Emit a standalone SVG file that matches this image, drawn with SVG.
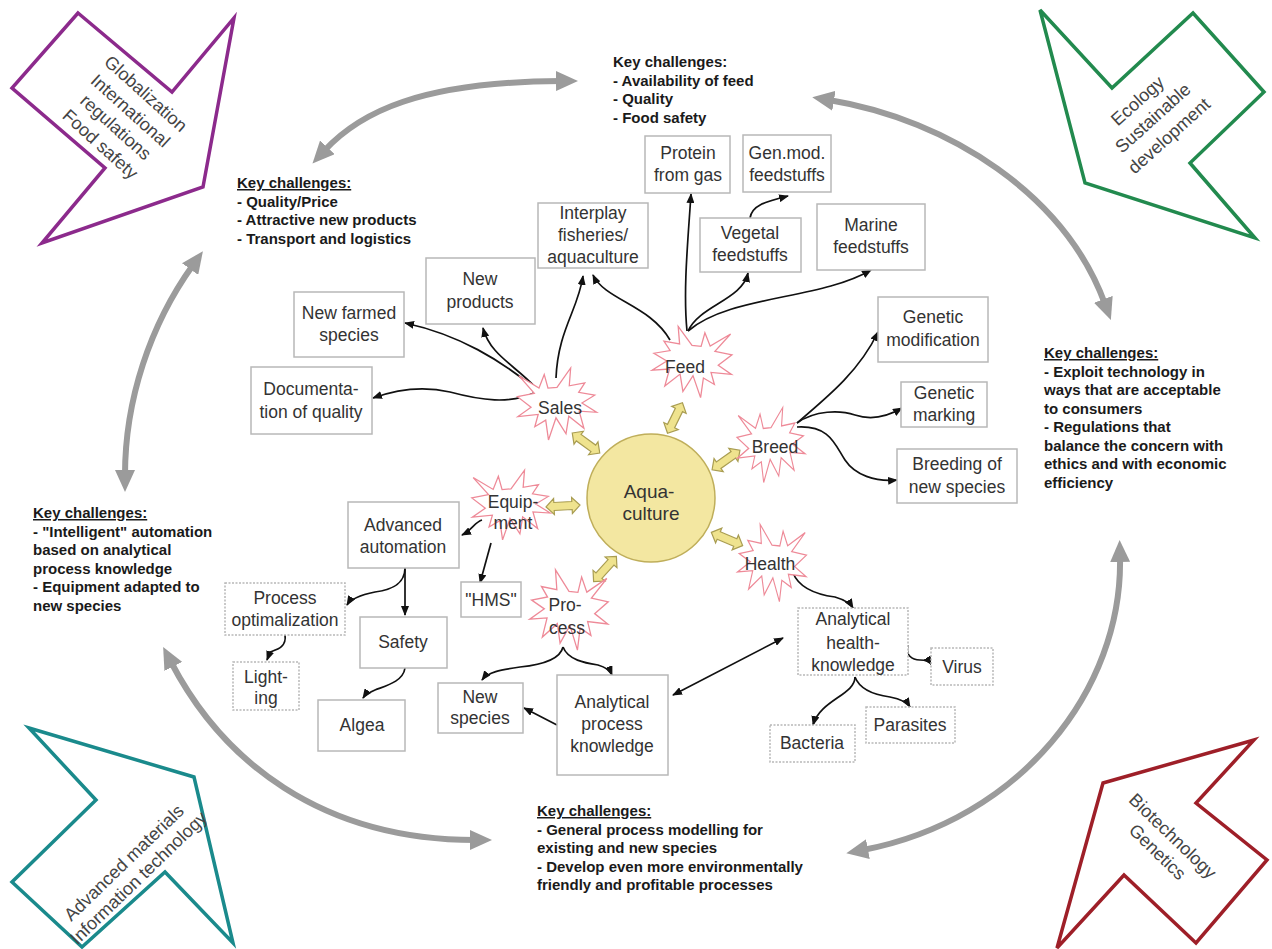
<svg xmlns="http://www.w3.org/2000/svg" xmlns:xlink="http://www.w3.org/1999/xlink" width="1272" height="949" viewBox="0 0 1272 949">
<style>
.t{font-family:"Liberation Sans",Arial,sans-serif;font-size:17.5px;fill:#333;text-anchor:middle}
.kc{font-family:"Liberation Sans",Arial,sans-serif;font-size:15px;font-weight:bold;fill:#1a1a1a}
.big{font-family:"Liberation Sans",Arial,sans-serif;font-size:18px;fill:#444;text-anchor:middle}
.box{fill:#fff;stroke:#b8b8b8;stroke-width:1.5}
.dot{stroke-dasharray:2 1.5}
.burst{fill:#fff;stroke:#ee8a98;stroke-width:1.3}
.con{fill:none;stroke:#111;stroke-width:1.7;marker-end:url(#ah)}
.arc{fill:none;stroke:#9b9b9b;stroke-width:6;marker-start:url(#gh);marker-end:url(#gh)}
.dbl{fill:#efe38e;stroke:#a99d52;stroke-width:1.2}
.frame{fill:#fff;stroke-width:3.5;stroke-linejoin:miter}
</style>
<defs>
<marker id="ah" viewBox="0 0 10 8" refX="9" refY="4" markerWidth="10" markerHeight="8" markerUnits="userSpaceOnUse" orient="auto-start-reverse"><path d="M0,0 L10,4 L0,8 z" fill="#111"/></marker>
<marker id="gh" viewBox="0 0 22 20" refX="5" refY="10" markerWidth="22" markerHeight="20" markerUnits="userSpaceOnUse" orient="auto-start-reverse"><path d="M0,0 L22,10 L0,20 z" fill="#9b9b9b"/></marker>
<path id="burst" d="M0,-17.4 L13.8,-37.5 L12.4,-19 L28.1,-22 L21.9,-12.1 L38.1,-9.2 L25.2,-1.1 L40,8.6 L22.4,7.4 L27.2,25.3 L11.9,12.7 L9.1,31 L-1,14.4 L-8.6,37.5 L-11.4,16.8 L-22.4,23.7 L-19,10.9 L-39.5,13.1 L-26.2,3.4 L-40,-7.6 L-22.9,-11.1 L-38.6,-29.5 L-18.2,-16.7 L-12.9,-30.8 L-9.1,-16.5 Z"/>
<path id="dblarrow" d="M-17,0 L-9,-8 L-9,-4 L9,-4 L9,-8 L17,0 L9,8 L9,4 L-9,4 L-9,8 Z"/>
</defs>
<rect width="1272" height="949" fill="#fff"/>

<!-- big corner arrows -->
<g id="arrow-globalization">
<polygon class="frame" stroke="#8c2a8c" points="78,13 172,92 234,18 203,187 42,243 105,168 12,88"/>
<g transform="translate(123,119) rotate(42)">
<text class="big" x="0" y="-28">Globalization</text>
<text class="big" x="0" y="-5">International</text>
<text class="big" x="0" y="17">regulations</text>
<text class="big" x="0" y="40">Food safety</text>
</g>
</g>
<g id="arrow-ecology">
<polygon class="frame" stroke="#228a4e" points="1040,10 1112,88 1193,13 1264,92 1190,163 1255,238 1085,183"/>
<g transform="translate(1153,118) rotate(-42)">
<text class="big" x="0" y="-17">Ecology</text>
<text class="big" x="0" y="6">Sustainable</text>
<text class="big" x="0" y="30">development</text>
</g>
</g>
<g id="arrow-materials">
<polygon class="frame" stroke="#1a8a8c" points="29,728 194,777 233,943 165,872 82,947 12,882 96,800"/>
<g transform="translate(131,870) rotate(-44)">
<text class="big" x="0" y="-4">Advanced materials</text>
<text class="big" x="0" y="17">Information technology</text>
</g>
</g>
<g id="arrow-biotech">
<polygon class="frame" stroke="#9e1f28" points="1254,740 1103,783 1057,948 1124,875 1196,943 1267,860 1196,803"/>
<g transform="translate(1165,844) rotate(44)">
<text class="big" x="0" y="-5">Biotechnology</text>
<text class="big" x="0" y="17">Genetics</text>
</g>
</g>

<!-- key challenges -->
<g id="kc-feed"><text class="kc" x="613" y="67">Key challenges:<tspan x="613" dy="18.5">- Availability of feed</tspan><tspan x="613" dy="18.5">- Quality</tspan><tspan x="613" dy="18.5">- Food safety</tspan></text></g>
<g id="kc-sales"><text class="kc" x="237" y="188"><tspan text-decoration="underline">Key challenges:</tspan><tspan x="237" dy="18.5">- Quality/Price</tspan><tspan x="237" dy="18.5">- Attractive new products</tspan><tspan x="237" dy="18.5">- Transport and logistics</tspan></text></g>
<g id="kc-breed"><text class="kc" x="1044" y="358"><tspan text-decoration="underline">Key challenges:</tspan><tspan x="1044" dy="18.5">- Exploit technology in</tspan><tspan x="1044" dy="18.5">ways that are acceptable</tspan><tspan x="1044" dy="18.5">to consumers</tspan><tspan x="1044" dy="18.5">- Regulations that</tspan><tspan x="1044" dy="18.5">balance the concern with</tspan><tspan x="1044" dy="18.5">ethics and with economic</tspan><tspan x="1044" dy="18.5">efficiency</tspan></text></g>
<g id="kc-equipment"><text class="kc" x="33" y="518"><tspan text-decoration="underline">Key challenges:</tspan><tspan x="33" dy="18.5">- "Intelligent" automation</tspan><tspan x="33" dy="18.5">based on analytical</tspan><tspan x="33" dy="18.5">process knowledge</tspan><tspan x="33" dy="18.5">- Equipment adapted to</tspan><tspan x="33" dy="18.5">new species</tspan></text></g>
<g id="kc-process"><text class="kc" x="537" y="816"><tspan text-decoration="underline">Key challenges:</tspan><tspan x="537" dy="18.5">- General process modelling for</tspan><tspan x="537" dy="18.5">existing and new species</tspan><tspan x="537" dy="18.5">- Develop even more environmentally</tspan><tspan x="537" dy="18.5">friendly and profitable processes</tspan></text></g>

<!-- gray cycle arrows -->
<g id="cycle">
<path class="arc" d="M324,151 C360,112 420,82 561,81"/>
<path class="arc" d="M829,100 C950,120 1065,195 1105,304"/>
<path class="arc" d="M1120,557 C1123,690 1020,820 863,850"/>
<path class="arc" d="M171,662 C222,760 320,840 475,840"/>
<path class="arc" d="M193,265 C150,325 125,400 125,475"/>
</g>

<!-- connectors -->
<g id="connectors">
<use href="#dblarrow" class="dbl" transform="translate(586,443) rotate(36)"/>
<use href="#dblarrow" class="dbl" transform="translate(675,418) rotate(-64)"/>
<use href="#dblarrow" class="dbl" transform="translate(726,460) rotate(-35)"/>
<use href="#dblarrow" class="dbl" transform="translate(563,506) rotate(-3)"/>
<use href="#dblarrow" class="dbl" transform="translate(727,539) rotate(23)"/>
<use href="#dblarrow" class="dbl" transform="translate(605,569) rotate(-48)"/>
<path class="con" d="M536,389 C500,360 460,335 405,323"/>
<path class="con" d="M536,388 C515,365 490,355 483,328"/>
<path class="con" d="M536,392 C510,405 480,400 450,392 C420,385 395,390 373,398"/>
<path class="con" d="M556,378 C558,330 578,310 583,276"/>
<path class="con" d="M670,340 C650,305 605,300 593,275"/>
<path class="con" d="M687,331 C683,290 688,240 691,194"/>
<path class="con" d="M688,331 C700,305 742,300 748,273"/>
<path class="con" d="M688,331 C730,295 820,300 871,270"/>
<path class="con" d="M750,218 C752,205 765,202 788,196"/>
<path class="con" d="M797,423 C830,395 860,370 878,332"/>
<path class="con" d="M797,423 C815,410 840,410 855,415 C870,420 885,418 902,408"/>
<path class="con" d="M797,427 C830,425 835,445 845,460 C855,475 875,482 897,480"/>
<path class="con" d="M482,520 C475,522 472,530 462,535"/>
<path class="con" d="M491,543 L480,583"/>
<path class="con" d="M563,647 C560,660 540,665 520,667 C500,670 488,672 482,680"/>
<path class="con" d="M563,647 C568,660 585,663 598,665 C605,667 610,670 612,675"/>
<path class="con" d="M557,725 L524,708"/>
<path class="con" style="marker-start:url(#ah)" d="M673,695 L783,638"/>
<path class="con" d="M793,573 C800,590 820,595 835,597 C845,600 850,603 853,608"/>
<path class="con" d="M908,645 C905,655 912,660 920,660 C927,660 930,662 932,665"/>
<path class="con" d="M855,677 C855,695 820,700 813,725"/>
<path class="con" d="M855,677 C860,690 875,695 890,697 C900,699 907,702 910,707"/>
<path class="con" d="M405,568 C405,585 390,590 375,592 C360,595 350,600 347,605"/>
<path class="con" d="M405,568 L405,615"/>
<path class="con" d="M285,635 C287,648 275,650 270,652 L267,660"/>
<path class="con" d="M405,668 C403,682 385,686 375,690 C368,693 365,695 363,698"/>
</g>

<!-- center -->
<g id="aquaculture">
<circle cx="651" cy="498" r="64" fill="#f3e7a1" stroke="#bfae5a" stroke-width="1.5"/>
<text class="t" x="649" y="498" style="font-size:19px">Aqua-</text>
<text class="t" x="651" y="520" style="font-size:19px">culture</text>
</g>

<!-- starbursts -->
<g id="sales"><use href="#burst" class="burst" transform="translate(557,404) scale(0.99,0.96)"/><text class="t" x="560" y="414">Sales</text></g>
<g id="feed"><use href="#burst" class="burst" transform="translate(692,362) scale(-1,0.95)"/><text class="t" x="685" y="373">Feed</text></g>
<g id="breed"><use href="#burst" class="burst" transform="translate(771,445) scale(0.85,1)"/><text class="t" x="775" y="453">Breed</text></g>
<g id="health"><use href="#burst" class="burst" transform="translate(772,563) scale(-0.86,1.03)"/><text class="t" x="770" y="570">Health</text></g>
<g id="equipment"><use href="#burst" class="burst" transform="translate(511,505) scale(0.98,0.93)"/><text class="t" x="513" y="508">Equip-</text><text class="t" x="513" y="529">ment</text></g>
<g id="process"><use href="#burst" class="burst" transform="translate(569,610) scale(-0.98,1.07)"/><text class="t" x="565" y="611">Pro-</text><text class="t" x="567" y="634">cess</text></g>

<!-- boxes -->
<g id="protein-from-gas"><rect class="box" x="645" y="136" width="85" height="57"/><text class="t" x="688" y="159">Protein</text><text class="t" x="688" y="181">from gas</text></g>
<g id="gen-mod-feedstuffs"><rect class="box" x="743" y="135" width="88" height="57"/><text class="t" x="787" y="159">Gen.mod.</text><text class="t" x="787" y="181">feedstuffs</text></g>
<g id="interplay"><rect class="box" x="538" y="203" width="110" height="65"/><text class="t" x="593" y="219">Interplay</text><text class="t" x="593" y="241">fisheries/</text><text class="t" x="593" y="263">aquaculture</text></g>
<g id="vegetal-feedstuffs"><rect class="box" x="700" y="218" width="101" height="54"/><text class="t" x="750" y="239">Vegetal</text><text class="t" x="750" y="261">feedstuffs</text></g>
<g id="marine-feedstuffs"><rect class="box" x="817" y="204" width="108" height="66"/><text class="t" x="871" y="231">Marine</text><text class="t" x="871" y="253">feedstuffs</text></g>
<g id="new-products"><rect class="box" x="426" y="258" width="109" height="66"/><text class="t" x="480" y="285">New</text><text class="t" x="480" y="308">products</text></g>
<g id="new-farmed-species"><rect class="box" x="294" y="292" width="110" height="65"/><text class="t" x="349" y="319">New farmed</text><text class="t" x="349" y="341">species</text></g>
<g id="documentation"><rect class="box" x="251" y="367" width="121" height="67"/><text class="t" x="311" y="395">Documenta-</text><text class="t" x="311" y="418">tion of quality</text></g>
<g id="genetic-modification"><rect class="box" x="878" y="297" width="110" height="65"/><text class="t" x="933" y="323">Genetic</text><text class="t" x="933" y="346">modification</text></g>
<g id="genetic-marking"><rect class="box" x="901" y="382" width="86" height="45"/><text class="t" x="944" y="399">Genetic</text><text class="t" x="944" y="421">marking</text></g>
<g id="breeding-new-species"><rect class="box" x="897" y="449" width="120" height="54"/><text class="t" x="957" y="470">Breeding of</text><text class="t" x="957" y="493">new species</text></g>
<g id="advanced-automation"><rect class="box" x="348" y="502" width="111" height="66"/><text class="t" x="403" y="531">Advanced</text><text class="t" x="403" y="553">automation</text></g>
<g id="hms"><rect class="box" x="461" y="582" width="60" height="35"/><text class="t" x="491" y="606">"HMS"</text></g>
<g id="process-optimalization"><rect class="box dot" x="225" y="583" width="120" height="52"/><text class="t" x="285" y="604">Process</text><text class="t" x="285" y="626">optimalization</text></g>
<g id="safety"><rect class="box" x="360" y="617" width="87" height="51"/><text class="t" x="403" y="648">Safety</text></g>
<g id="lighting"><rect class="box dot" x="233" y="662" width="66" height="48"/><text class="t" x="266" y="683">Light-</text><text class="t" x="266" y="704">ing</text></g>
<g id="algea"><rect class="box" x="318" y="700" width="87" height="51"/><text class="t" x="362" y="731">Algea</text></g>
<g id="new-species"><rect class="box" x="438" y="683" width="85" height="50"/><text class="t" x="480" y="703">New</text><text class="t" x="480" y="724">species</text></g>
<g id="analytical-process-knowledge"><rect class="box" x="557" y="675" width="111" height="100"/><text class="t" x="612" y="708">Analytical</text><text class="t" x="612" y="730">process</text><text class="t" x="612" y="752">knowledge</text></g>
<g id="analytical-health-knowledge"><rect class="box dot" x="798" y="608" width="110" height="67"/><text class="t" x="853" y="625">Analytical</text><text class="t" x="853" y="649">health-</text><text class="t" x="853" y="671">knowledge</text></g>
<g id="virus"><rect class="box dot" x="931" y="648" width="62" height="37"/><text class="t" x="962" y="673">Virus</text></g>
<g id="parasites"><rect class="box dot" x="866" y="707" width="89" height="36"/><text class="t" x="910" y="731">Parasites</text></g>
<g id="bacteria"><rect class="box dot" x="770" y="725" width="85" height="37"/><text class="t" x="812" y="749">Bacteria</text></g>
</svg>
